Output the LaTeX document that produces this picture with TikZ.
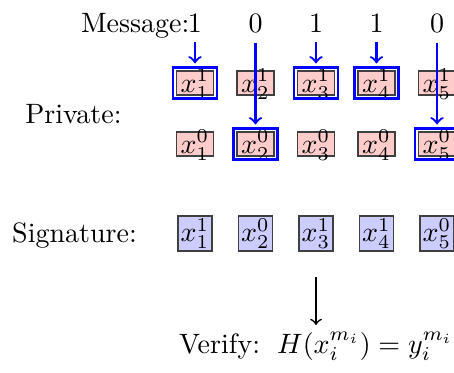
\documentclass[tikz,border=0pt]{standalone}
\usetikzlibrary{fit}
\begin{document}
\begin{tikzpicture}[x=0.357pt, y=-0.357pt,
  bit/.style={inner sep=3.33pt},
  keybox/.style={draw=black!75, line width=0.5pt, fill=red!20,
    text height=6.5pt, text depth=0pt, inner xsep=1.5pt, inner ysep=1pt},
  pick/.style={draw=blue, line width=1pt, inner sep=1pt},
  sigbox/.style={draw=black!75, line width=0.5pt, fill=blue!20, inner sep=1pt},
  sel/.style={->, draw=blue, line width=0.8pt, shorten >=1pt},
  rowlabel/.style={inner sep=0pt, anchor=base}]
\useasboundingbox (0,0) rectangle (454,372);

% message bits, the two rows of private keys and the signature
\foreach \i/\m in {1/1,2/0,3/1,4/1,5/0} {
  \pgfmathsetmacro\cx{195+60.5*(\i-1)}
  \node[bit, anchor=base] (b\i) at (\cx,32) {\m};
  \node[keybox] (one\i) at (\cx,83) {$x_\i^1$};
  \node[keybox] (zero\i) at (\cx,144) {$x_\i^0$};
  \node[sigbox] (sig\i) at (\cx,233.5) {$x_\i^{\m}$};
}

% row labels
\node[rowlabel, anchor=base east] (msg) at (190,32) {Message:};
\node[rowlabel] (priv) at (73.5,123) {Private:};
\node[rowlabel] (sign) at (74.5,242) {Signature:};
\node[rowlabel] (verify) at (316,353) {Verify: \,$H(x_i^{m_i}) = y_i^{m_i}$};

% keys selected by the message bits
\foreach \i/\r in {1/one,2/zero,3/one,4/one,5/zero} {
  \node[pick, fit=(\r\i)] (pick\i) {};
  \draw[sel] (b\i.south) -- (pick\i.north);
}

% verification step
\coordinate (vtop) at (316,277);
\coordinate (vbot) at (316,325);
\draw[->, line width=0.6pt] (vtop) -- (vbot);
\end{tikzpicture}
\end{document}
